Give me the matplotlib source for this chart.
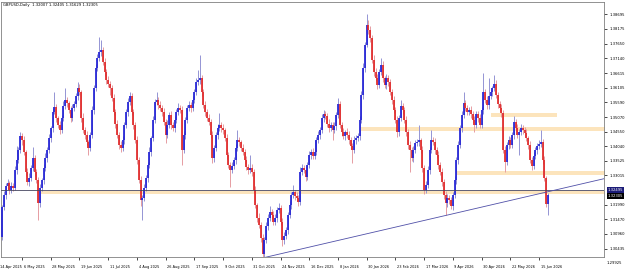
import numpy as np
import matplotlib.pyplot as plt
from matplotlib.transforms import blended_transform_factory

# GBPUSD daily candles (open = previous close)
first_open = 1.3085
closes = [
    1.3190, 1.3233, 1.3264, 1.3275, 1.3250, 1.3264, 1.3257, 1.3321, 1.3356, 1.3391,
    1.3440, 1.3426, 1.3384, 1.3314, 1.3278, 1.3292, 1.3328, 1.3363, 1.3314, 1.3285,
    1.3204, 1.3257, 1.3285, 1.3328, 1.3363, 1.3391, 1.3433, 1.3468, 1.3525, 1.3542,
    1.3504, 1.3479, 1.3461, 1.3504, 1.3546, 1.3567, 1.3556, 1.3532, 1.3504, 1.3539,
    1.3553, 1.3581, 1.3609, 1.3595, 1.3504, 1.3461, 1.3444, 1.3419, 1.3398, 1.3444,
    1.3532, 1.3609, 1.3680, 1.3715, 1.3736, 1.3743, 1.3701, 1.3666, 1.3637, 1.3623,
    1.3609, 1.3574, 1.3525, 1.3483, 1.3444, 1.3409, 1.3398, 1.3426, 1.3479,
    1.3525, 1.3560, 1.3581, 1.3525, 1.3479, 1.3426, 1.3356, 1.3285, 1.3215, 1.3222,
    1.3257, 1.3292, 1.3338, 1.3384, 1.3433, 1.3497, 1.3560, 1.3567, 1.3549, 1.3539,
    1.3525, 1.3490, 1.3444, 1.3479, 1.3514, 1.3479, 1.3468, 1.3497, 1.3525, 1.3539,
    1.3532, 1.3391, 1.3444, 1.3497, 1.3539, 1.3549, 1.3539, 1.3567, 1.3595, 1.3630,
    1.3637, 1.3644, 1.3595, 1.3549, 1.3525, 1.3504, 1.3490, 1.3444, 1.3363, 1.3398,
    1.3444, 1.3468, 1.3479, 1.3468, 1.3461, 1.3433, 1.3373, 1.3338, 1.3321, 1.3335,
    1.3356, 1.3398, 1.3426, 1.3419, 1.3398, 1.3384, 1.3356, 1.3331, 1.3321, 1.3328,
    1.3314, 1.3250, 1.3197, 1.3152, 1.3127, 1.3081, 1.3025, 1.3074, 1.3124, 1.3152,
    1.3173, 1.3162, 1.3138, 1.3152, 1.3180, 1.3187, 1.3138, 1.3074, 1.3088, 1.3109,
    1.3162, 1.3197, 1.3233, 1.3243, 1.3229, 1.3222, 1.3208, 1.3314, 1.3328, 1.3321,
    1.3296, 1.3338, 1.3373, 1.3384, 1.3370, 1.3384, 1.3426, 1.3444, 1.3461,
    1.3504, 1.3518, 1.3511, 1.3483, 1.3468, 1.3479, 1.3461, 1.3476, 1.3514, 1.3553,
    1.3479, 1.3454, 1.3440, 1.3454, 1.3444, 1.3426, 1.3405, 1.3391, 1.3426, 1.3433,
    1.3440, 1.3497, 1.3585, 1.3680, 1.3761, 1.3831, 1.3813, 1.3785, 1.3708, 1.3666,
    1.3644, 1.3620, 1.3666, 1.3690, 1.3644, 1.3620, 1.3644, 1.3630, 1.3595, 1.3567,
    1.3532, 1.3497, 1.3454, 1.3504, 1.3546, 1.3532, 1.3497, 1.3454, 1.3409, 1.3391,
    1.3363, 1.3391, 1.3416, 1.3419, 1.3426, 1.3391, 1.3328, 1.3250, 1.3268, 1.3321,
    1.3391, 1.3426, 1.3419, 1.3391, 1.3373, 1.3338, 1.3314, 1.3278, 1.3233, 1.3204,
    1.3222, 1.3215, 1.3194, 1.3233, 1.3285, 1.3356, 1.3409, 1.3468, 1.3514, 1.3556,
    1.3539, 1.3525, 1.3532, 1.3518, 1.3497, 1.3479, 1.3518, 1.3504, 1.3479,
    1.3532, 1.3595, 1.3567, 1.3549, 1.3581, 1.3595, 1.3609, 1.3623, 1.3585, 1.3553,
    1.3539, 1.3521, 1.3391, 1.3349, 1.3409, 1.3426, 1.3409, 1.3444, 1.3490, 1.3468,
    1.3444, 1.3454, 1.3468, 1.3461, 1.3451, 1.3433, 1.3409, 1.3356, 1.3335, 1.3370,
    1.3391, 1.3405, 1.3412, 1.3419, 1.3356, 1.3292, 1.3201, 1.3231,
]
# wick lengths in pips above / below the body
wick_up = [
    7, 12, 10, 15, 8, 14, 10, 12, 50, 9,
    14, 10, 16, 8, 12, 18, 10, 38, 12, 9,
    11, 14, 8, 12, 16, 10, 13, 9, 15, 52,
    12, 8, 14, 10, 16, 42, 11, 9, 13, 15,
    10, 12, 21, 14, 9, 16, 11, 13, 8, 12,
    15, 10, 12, 14, 53, 35, 11, 13, 9, 16,
    12, 10, 14, 9, 15, 11, 13, 16, 12,
    10, 15, 14, 12, 9, 11, 16, 10, 13, 12,
    14, 10, 12, 16, 9, 13, 11, 28, 10, 15,
    12, 14, 9, 16, 11, 13, 10, 15, 12, 18,
    10, 13, 15, 9, 12, 16, 11, 14, 10, 13,
    35, 80, 12, 10, 15, 9, 13, 11, 14, 10,
    12, 16, 42, 10, 13, 9, 15, 11, 12, 14,
    10, 13, 35, 12, 9, 15, 11, 14, 10, 45,
    12, 10, 14, 9, 16, 11, 13, 10, 15, 12,
    21, 10, 14, 12, 9, 18, 11, 13, 15, 10,
    12, 14, 10, 25, 9, 13, 11, 16, 12, 10,
    14, 10, 13, 9, 15, 42, 10, 14, 11,
    13, 14, 10, 12, 16, 9, 11, 15, 10, 21,
    12, 10, 14, 9, 13, 15, 11, 10, 16, 12,
    10, 14, 12, 16, 11, 39, 18, 13, 10, 18,
    12, 15, 10, 25, 13, 9, 14, 11, 12, 10,
    14, 10, 13, 11, 21, 12, 9, 15, 10, 13,
    11, 14, 10, 12, 53, 9, 13, 10, 15, 12,
    10, 35, 12, 14, 9, 13, 11, 15, 10, 12,
    14, 10, 12, 9, 16, 11, 13, 10, 15, 39,
    12, 10, 11, 13, 9, 15, 10, 12, 14,
    11, 67, 10, 13, 63, 12, 9, 32, 14, 10,
    12, 15, 10, 13, 9, 14, 11, 12, 21, 10,
    13, 11, 14, 10, 12, 15, 9, 13, 11, 14,
    10, 12, 14, 42, 11, 13, 9, 10,
]
wick_dn = [
    10, 9, 13, 11, 15, 10, 12, 8, 14, 11,
    12, 16, 10, 13, 9, 15, 11, 12, 14, 10,
    60, 12, 9, 14, 11, 13, 10, 15, 12, 9,
    13, 11, 14, 10, 12, 9, 15, 11, 13, 10,
    12, 10, 14, 9, 13, 11, 15, 12, 25, 10,
    11, 13, 9, 12, 10, 14, 11, 15, 12, 10,
    25, 12, 10, 14, 11, 13, 14, 10, 15,
    11, 13, 9, 12, 14, 10, 15, 11, 20, 70,
    12, 10, 14, 11, 13, 9, 12, 10, 15, 11,
    13, 10, 28, 12, 9, 14, 11, 13, 10, 12,
    11, 53, 10, 14, 12, 9, 13, 11, 10, 12,
    10, 12, 14, 11, 13, 10, 12, 9, 18, 14,
    11, 13, 10, 12, 14, 9, 15, 11, 60, 12,
    10, 14, 11, 13, 9, 12, 15, 10, 13, 11,
    14, 12, 10, 13, 11, 15, 14, 12, 10, 13,
    11, 13, 10, 12, 14, 9, 12, 21, 13, 10,
    12, 10, 14, 11, 13, 9, 15, 10, 12, 11,
    13, 10, 12, 14, 11, 9, 12, 10, 14,
    11, 13, 10, 12, 14, 9, 35, 11, 13, 10,
    12, 14, 10, 13, 11, 15, 12, 45, 10, 13,
    11, 12, 10, 14, 13, 9, 12, 15, 11, 13,
    10, 14, 12, 11, 13, 10, 15, 12, 11, 13,
    12, 10, 18, 13, 11, 14, 10, 12, 13, 77,
    11, 13, 10, 12, 14, 9, 13, 15, 11, 12,
    13, 10, 12, 14, 11, 13, 10, 12, 15, 42,
    12, 14, 10, 13, 11, 12, 14, 10, 13, 11,
    12, 10, 11, 14, 10, 25, 12, 13, 11,
    10, 13, 11, 12, 14, 10, 13, 11, 12, 14,
    11, 13, 12, 35, 10, 14, 12, 11, 13, 10,
    12, 70, 11, 13, 10, 12, 14, 11, 14, 12,
    11, 13, 10, 12, 14, 11, 10, 38,
]

date_labels = [
    "14 Apr 2025", "6 May 2025", "28 May 2025", "19 Jun 2025", "11 Jul 2025",
    "4 Aug 2025", "26 Aug 2025", "17 Sep 2025", "9 Oct 2025", "31 Oct 2025",
    "24 Nov 2025", "16 Dec 2025", "8 Jan 2026", "30 Jan 2026", "23 Feb 2026",
    "17 Mar 2026", "9 Apr 2026", "30 Apr 2026", "22 May 2026", "15 Jun 2026",
]
date_bars = [-5, 11, 27, 43, 59, 75, 91, 107, 123, 139,
             155, 171, 187, 203, 219, 235, 251, 267, 283, 299]

price_ticks = [1.38695, 1.38175, 1.37650, 1.37140, 1.36615, 1.36105, 1.35590,
               1.35070, 1.34550, 1.34040, 1.33525, 1.33015, 1.31990, 1.31470,
               1.30960, 1.30435]
bottom_price = 1.29925

# supply / demand rectangles: (first bar, last bar, low, high)
zones = [
    (272, 309, 1.3507, 1.3521),
    (199, 340, 1.3458, 1.3472),
    (253, 340, 1.3303, 1.3317),
    (21, 340, 1.3236, 1.3247),
]
hline_price = 1.32495
bid_price = 1.32305
trend_start = (145, 1.3011)
trend_end = (335.2, 1.3290)
title = "GBPUSD,Daily  1.32007 1.32405 1.31629 1.32305"

closes = np.array(closes)
opens = np.concatenate([[first_open], closes[:-1]])
highs = np.maximum(opens, closes) + np.array(wick_up) * 1e-4
lows = np.minimum(opens, closes) - np.array(wick_dn) * 1e-4
idx = np.arange(len(closes))
bull = closes >= opens

fig = plt.figure(figsize=(6.25, 2.74), dpi=100)
ax = fig.add_axes([1 / 625, 17 / 274, 603 / 625, 255 / 274])
ax.set_xlim(-0.72, 335.2)
ax.set_ylim(1.30144, 1.3912)

for x0, x1, lo, hi in zones:
    ax.fill_between([x0, x1], lo, hi, color="#FCE4BC", lw=0, zorder=0.5)

wick_col = np.where(bull, "#9494D4", "#E69CA2")
body_col = np.where(bull, "#2222D6", "#E02828")
ax.vlines(idx, lows, highs, colors=wick_col, lw=0.7, zorder=2)
ax.vlines(idx, np.minimum(opens, closes), np.maximum(opens, closes),
          colors=body_col, lw=1.25, zorder=3)

ax.axhline(hline_price, color="#45455F", lw=0.6, zorder=4)
ax.plot([trend_start[0], trend_end[0]], [trend_start[1], trend_end[1]],
        color="#5050A8", lw=0.6, zorder=4)

for s in ax.spines.values():
    s.set_color("#808080")
    s.set_linewidth(0.6)

ax.yaxis.tick_right()
ax.set_yticks(price_ticks)
ax.set_yticklabels(["%.5f" % p for p in price_ticks])
ax.tick_params(axis="y", length=2.5, width=0.5, pad=1.5, labelsize=2.7,
               colors="black")

vis = [b for b in date_bars if b >= 0]
ax.set_xticks(vis)
ax.set_xticklabels([])
ax.tick_params(axis="x", length=2.5, width=0.5)

tr = blended_transform_factory(ax.transData, ax.transAxes)
for b, lab in zip(date_bars, date_labels):
    if b < 0:
        # first label sits at the very left edge of the picture
        fig.text(0.5 / 625, 17 / 274 - 0.03 * 255 / 274, lab, ha="left",
                 va="top", fontsize=2.5)
    else:
        ax.text(b + 0.9, -0.03, lab, transform=tr, ha="left", va="top",
                fontsize=2.5, clip_on=False)

tr_y = blended_transform_factory(ax.transAxes, ax.transData)
ax.text(1.005, bottom_price, "%.5f" % bottom_price, transform=tr_y,
        ha="left", va="center", fontsize=2.7, clip_on=False)
ax.text(1.006, hline_price, "%.5f" % hline_price, transform=tr_y, ha="left",
        va="center", fontsize=2.7, color="white", clip_on=False,
        bbox=dict(boxstyle="square,pad=0.25", fc="#1C1C78", ec="none"))
ax.text(1.006, bid_price, "%.5f" % bid_price, transform=tr_y, ha="left",
        va="center", fontsize=2.7, color="white", clip_on=False,
        bbox=dict(boxstyle="square,pad=0.25", fc="black", ec="none"))

fig.text(3 / 625, 1 - 5 / 274, title, ha="left", va="center", fontsize=2.7)

fig.savefig("out.png", dpi=100)
